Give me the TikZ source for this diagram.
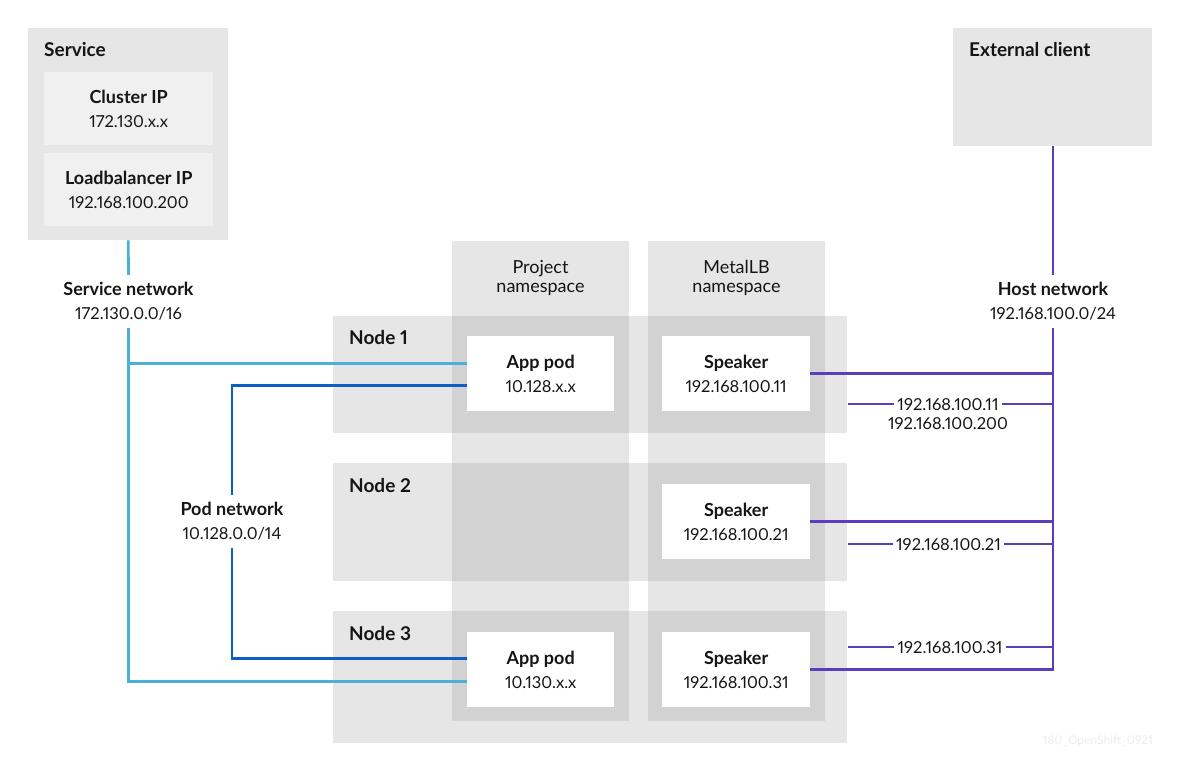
\documentclass[tikz,border=0pt]{standalone}
\usepackage{fontspec}
\setmainfont{Lato}[Numbers=Proportional]
\definecolor{bgL}{HTML}{E6E6E6}
\definecolor{bgD}{HTML}{D2D2D2}
\definecolor{bgXL}{HTML}{F0F0F0}
\definecolor{svcC}{HTML}{4BAFD6}
\definecolor{podC}{HTML}{0B5FC0}
\definecolor{hostC}{HTML}{5A3EBE}
\definecolor{txt}{HTML}{151515}
\newcommand\fb{\fontsize{18}{24}\selectfont\bfseries}
\newcommand\fr{\fontsize{16.5}{24}\selectfont}
\newcommand\fhd{\fontsize{19}{23}\selectfont\bfseries}
\newcommand\fszt{\fontsize{18}{19.5}\selectfont}
\tikzset{
  region/.style={fill=bgL, draw=none, anchor=north west, inner sep=0pt},
  dregion/.style={fill=bgD, draw=none, anchor=north west, inner sep=0pt},
  ipbox/.style={fill=bgXL, draw=none, anchor=north west, inner sep=0pt, minimum width=169pt, minimum height=73pt, align=center, text=txt, font=\fr},
  podbox/.style={fill=white, draw=none, anchor=north west, inner sep=0pt, minimum width=147pt, minimum height=75pt, align=center, text=txt, font=\fr},
  head/.style={font=\fhd, text=txt, anchor=base west, inner sep=0pt},
  netlbl/.style={text=txt, align=center, inner sep=0pt, minimum height=53pt, font=\fr},
  coltitle/.style={font=\fszt, text=txt, align=center, inner sep=0pt},
  iplbl/.style={font=\fr, text=txt, inner xsep=3pt, inner ysep=0pt, text height=12pt, text depth=0pt},
  wire/.style={line width=2.8pt},
  svcw/.style={wire, svcC},
  podw/.style={wire, podC},
  hostw/.style={wire, hostC},
}
\begin{document}
\begin{tikzpicture}[x=1pt,y=-1pt]
\useasboundingbox (0,0) rectangle (1182,760);
% Service
\node[region, minimum width=200pt, minimum height=212pt] (svc) at (28,28) {};
\node[head] (svct) at (44,56.5) {Service};
\node[ipbox] (cip) at (44,72) {{\fb Cluster IP}\\172.130.x.x};
\node[ipbox] (lbip) at (44,153) {{\fb Loadbalancer IP}\\192.168.100.200};
% External client
\node[region, minimum width=199pt, minimum height=118pt] (ext) at (953,28) {};
\node[head] (extt) at (969,56.5) {External client};
% Columns
\node[region, minimum width=177pt, minimum height=480pt] (colp) at (452,241) {};
\node[region, minimum width=177pt, minimum height=480pt] (colm) at (648,241) {};
% Rows
\node[region, minimum width=514pt, minimum height=117pt] (row1) at (333,316) {};
\node[region, minimum width=514pt, minimum height=118pt] (row2) at (333,463) {};
\node[region, minimum width=514pt, minimum height=132pt] (row3) at (333,611) {};
% Intersections
\node[dregion, minimum width=177pt, minimum height=117pt] (i1p) at (452,316) {};
\node[dregion, minimum width=177pt, minimum height=117pt] (i1m) at (648,316) {};
\node[dregion, minimum width=177pt, minimum height=118pt] (i2p) at (452,463) {};
\node[dregion, minimum width=177pt, minimum height=118pt] (i2m) at (648,463) {};
\node[dregion, minimum width=177pt, minimum height=110pt] (i3p) at (452,611) {};
\node[dregion, minimum width=177pt, minimum height=110pt] (i3m) at (648,611) {};
% Titles
\node[coltitle] (tp) at (540.5,278) {Project\\namespace};
\node[coltitle] (tm) at (736.5,278) {MetalLB\\namespace};
\node[head] (n1) at (349,344.3) {Node 1};
\node[head] (n2) at (349,492) {Node 2};
\node[head] (n3) at (349,640) {Node 3};
% Pods
\node[podbox] (app1) at (467,336) {{\fb App pod}\\10.128.x.x};
\node[podbox, minimum width=148pt] (sp1) at (662,336) {{\fb Speaker}\\192.168.100.11};
\node[podbox, minimum width=148pt] (sp2) at (662,484) {{\fb Speaker}\\192.168.100.21};
\node[podbox] (app3) at (467,632) {{\fb App pod}\\10.130.x.x};
\node[podbox, minimum width=148pt] (sp3) at (662,632) {{\fb Speaker}\\192.168.100.31};
% Network labels
\node[netlbl] (svclab) at (128.5,301.5) {{\fb Service network}\\172.130.0.0/16};
\node[netlbl] (podlab) at (232,521.5) {{\fb Pod network}\\10.128.0.0/14};
\node[netlbl] (hostlab) at (1053,301.5) {{\fb Host network}\\192.168.100.0/24};
% anchor points on pods
\coordinate (app1s) at ([yshift=10.5pt]app1.west);
\coordinate (app1p) at ([yshift=-11.5pt]app1.west);
\coordinate (app3p) at ([yshift=11.5pt]app3.west);
\coordinate (app3s) at ([yshift=-11.5pt]app3.west);
% Service network wires
\draw[svcw] (svc.south) -- (svclab.north);
\draw[svcw] (svclab.south) |- (app3s);
\draw[svcw] (svclab.south |- app1s) -- (app1s);
% Pod network wires
\draw[podw] (podlab.north) |- (app1p);
\draw[podw] (podlab.south) |- (app3p);
% Host network wires
\draw[hostw] (ext.south -| hostlab.north) -- (hostlab.north);
\draw[hostw] (hostlab.south) -- (hostlab.south |- sp3.east) -- (sp3.east);
\draw[hostw] (sp1.east) -- (sp1.east -| hostlab.south);
\draw[hostw] (sp2.east) -- (sp2.east -| hostlab.south);
% IP labels
\node[iplbl] (ip1a) at (948,404) {192.168.100.11};
\node[iplbl] (ip1b) at (948,423) {192.168.100.200};
\node[iplbl] (ip2) at (948.5,544) {192.168.100.21};
\node[iplbl] (ip3) at (950,647) {192.168.100.31};
\coordinate (h1) at (848,404);
\coordinate (h2) at (848,544);
\coordinate (h3) at (848,647);
\draw[hostw] (h1) -- (ip1a.west);
\draw[hostw] (ip1a.east) -- (ip1a.east -| hostlab.south);
\draw[hostw] (h2) -- (ip2.west);
\draw[hostw] (ip2.east) -- (ip2.east -| hostlab.south);
\draw[hostw] (h3) -- (ip3.west);
\draw[hostw] (ip3.east) -- (ip3.east -| hostlab.south);
% watermark
\node[font=\fontsize{12}{14}\selectfont, text=black!7, anchor=base east, inner sep=0pt] (wm) at (1153,744) {180\_OpenShift\_0921};
\end{tikzpicture}
\end{document}
